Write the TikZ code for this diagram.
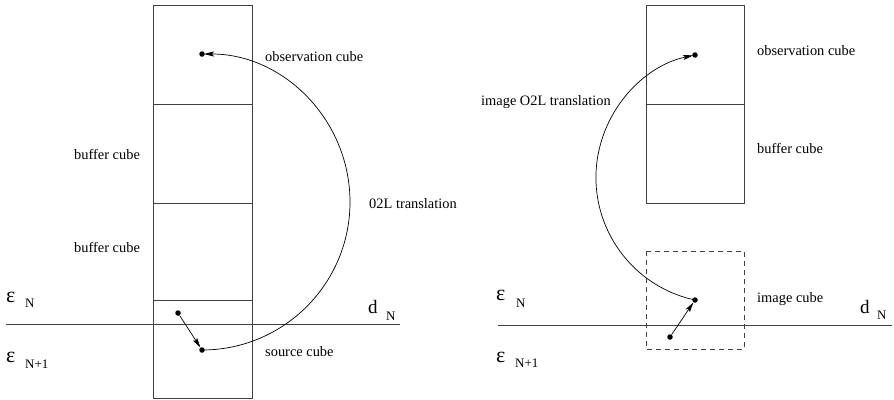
\documentclass[tikz,border=0pt]{standalone}
\usepackage{fontspec}
\setmainfont{Liberation Serif}
\usetikzlibrary{arrows.meta}
\tikzset{
  frame/.style={draw=black!75, line width=1pt},
  cubelabel/.style={anchor=base west, inner sep=0pt, font=\fontsize{14.4}{16}\selectfont},
  epslabel/.style={anchor=base west, inner sep=0pt, font=\fontsize{22}{22}\selectfont},
  dlabel/.style={anchor=base west, inner sep=0pt, font=\fontsize{19}{19}\selectfont},
  sublabel/.style={anchor=base west, inner sep=0pt, font=\fontsize{13}{13}\selectfont},
  dot/.style={circle, fill=black, inner sep=0pt, minimum size=5.5pt},
  arr/.style={-{Stealth[length=10pt,width=5pt,inset=2pt]}, line width=0.7pt, black},
}
\begin{document}
\begin{tikzpicture}[x=1pt,y=1pt]
\useasboundingbox (0,0) rectangle (894,-399);
% ---------- left panel ----------
\draw[frame] (153,-5) rectangle (252,-398);
\draw[frame] (153,-104) -- (252,-104);
\draw[frame] (153,-203) -- (252,-203);
\draw[frame] (153,-300) -- (252,-300);
\coordinate (lL) at (6,-324);
\coordinate (lR) at (400,-324);
\draw[frame] (lL) -- (lR);

\node[cubelabel] (obsL) at (265,-61) {observation cube};
\node[cubelabel] (buf1) at (74,-159) {buffer cube};
\node[cubelabel] (buf2) at (74,-252) {buffer cube};
\node[cubelabel] (srcL) at (265,-356) {source cube};
\node[cubelabel] (o2l) at (369,-208) {02L translation};

\node[epslabel] (eNL) at (6,-302) {ε};
\node[sublabel] (nNL) at (25,-307) {N};
\node[epslabel] (eN1L) at (6,-362) {ε};
\node[sublabel] (nN1L) at (25,-368) {N+1};
\node[dlabel] (dL) at (368,-313) {d};
\node[sublabel] (dNL) at (386,-320) {N};

\node[dot] (obsdotL) at (202,-54) {};
\node[dot] (startL) at (178,-313) {};
\node[dot] (srcdotL) at (202,-350) {};
\draw[arr] (startL) -- (srcdotL);
\draw[arr, shorten >=2pt] (srcdotL.center) arc[start angle=-90, end angle=90, radius=148];

% ---------- right panel ----------
\draw[frame] (646,-5) rectangle (744,-203);
\draw[frame] (646,-104) -- (744,-104);
\draw[frame, dashed, dash pattern=on 5pt off 4pt] (646,-251) rectangle (744,-349);
\coordinate (rL) at (498,-325);
\coordinate (rR) at (892,-325);
\draw[frame] (rL) -- (rR);

\node[cubelabel] (obsR) at (757,-55) {observation cube};
\node[cubelabel] (bufR) at (757,-153) {buffer cube};
\node[cubelabel] (imgR) at (757,-302) {image cube};
\node[cubelabel] (io2l) at (481,-105) {image O2L translation};

\node[epslabel] (eNR) at (496,-300) {ε};
\node[sublabel] (nNR) at (516,-307) {N};
\node[epslabel] (eN1R) at (496,-362) {ε};
\node[sublabel] (nN1R) at (515,-367) {N+1};
\node[dlabel] (dR) at (860,-313) {d};
\node[sublabel] (dNR) at (877,-319) {N};

\node[dot] (obsdotR) at (695,-55) {};
\node[dot] (imgdotR) at (695,-300) {};
\node[dot] (startR) at (670,-337) {};
\draw[arr] (startR) -- (imgdotR);
\draw[arr, shorten >=2pt] (imgdotR.center) arc[start angle=257.9, end angle=102.1, radius=125.3];
\end{tikzpicture}
\end{document}
